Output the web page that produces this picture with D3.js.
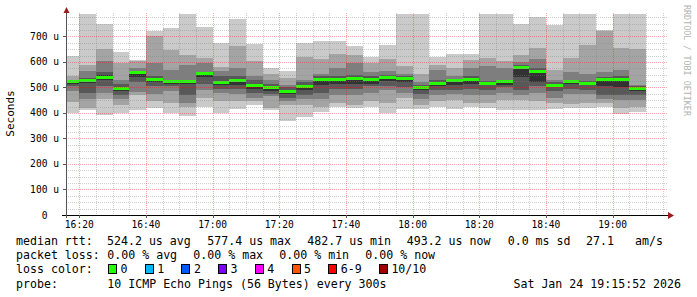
<!DOCTYPE html>
<html><head><meta charset="utf-8">
<script src="https://cdn.jsdelivr.net/npm/d3@7"></script>
<style>
html,body{margin:0;padding:0;background:#fff;}
svg{display:block;}
text{font-family:"DejaVu Sans Mono",monospace;white-space:pre;}
</style>
</head><body>
<svg id="c" width="697" height="297"></svg>
<script>
// ---------------- data ----------------
const slotStart = ["16:15","16:20","16:25","16:30","16:35","16:40","16:45","16:50","16:55",
  "17:00","17:05","17:10","17:15","17:20","17:25","17:30","17:35","17:40","17:45","17:50","17:55",
  "18:00","18:05","18:10","18:15","18:20","18:25","18:30","18:35","18:40","18:45","18:50","18:55",
  "19:00","19:05"];
// 10 sorted ping RTTs per 5-minute slot (microseconds)
const pings = [
  [401,444,487,506,514,522,526,530,545,623],
  [413,420,453,479,518,532,538,564,590,800],
  [394,455,480,505,528,548,560,603,649,749],
  [400,430,455,470,488,500,512,528,595,640],
  [410,470,482,520,540,560,565,577,603,609],
  [418,447,475,505,520,531,546,596,701,720],
  [400,440,485,505,515,526,531,570,645,733],
  [388,425,440,470,515,525,531,590,629,800],
  [425,460,490,512,540,557,561,596,616,737],
  [398,445,480,495,508,522,544,564,579,675],
  [415,445,475,494,510,530,544,577,664,769],
  [430,445,460,480,495,512,530,544,603,671],
  [410,420,465,475,488,500,515,530,551,577],
  [370,430,445,460,475,486,500,511,537,564],
  [385,432,455,470,490,506,520,531,620,675],
  [405,425,455,480,510,534,545,551,613,681],
  [425,440,470,495,515,534,545,577,633,681],
  [420,430,470,495,515,536,550,596,629,662],
  [425,445,480,505,515,534,545,561,596,619],
  [400,440,490,505,525,543,550,564,613,668],
  [415,460,480,500,520,537,545,551,583,800],
  [415,430,455,475,490,502,510,520,551,800],
  [425,445,470,490,505,517,530,570,590,620],
  [415,450,475,490,510,529,535,544,577,632],
  [425,440,470,495,515,534,545,577,609,633],
  [420,440,470,490,508,519,525,583,616,800],
  [413,450,480,500,510,526,531,577,603,800],
  [412,450,470,490,540,582,590,600,629,747],
  [412,445,480,505,520,566,575,613,653,775],
  [415,440,460,485,500,511,520,531,570,743],
  [420,435,475,495,513,524,530,561,616,800],
  [420,440,475,490,508,516,525,551,668,800],
  [425,440,455,470,505,533,540,560,720,727],
  [395,420,450,470,500,532,545,570,653,800],
  [405,425,450,470,485,496,505,509,649,800]
];
const medians = [523,527,541,495,557,530,524,523,553,518,527,509,498,483,504,532,532,534,532,541,
  535,500,515,527,532,517,524,577,561,509,522,514,531,530,494];
const lossPct = [0,0,0,0,0,0,0,0,0,0,0,0,0,0,0,0,0,0,0,0,0,0,0,0,0,0,0,0,0,0,0,0,0,0,0];

const yTickValues = [0,100,200,300,400,500,600,700];
const yTickLabels = ["0  ","100 u","200 u","300 u","400 u","500 u","600 u","700 u"];
const xTickLabels = ["16:20","16:40","17:00","17:20","17:40","18:00","18:20","18:40","19:00"];
const smokeGrays = ["#cacaca","#a4a4a4","#7e7e7e","#585858","#323232"];
const lossColors = ["#26ff00","#00b8ff","#0059ff","#7e00ff","#ff00ff","#ff5500","#ff0000","#a10000"];
const lossLabels = ["0","1","2","3","4","5","6-9","10/10"];
const rttStats = ["524.2 us avg","577.4 us max","482.7 us min","493.2 us now","0.0 ms sd","27.1","am/s"];
const lossStats = ["0.00 % avg","0.00 % max","0.00 % min","0.00 % now"];
const probeText = "10 ICMP Echo Pings (56 Bytes) every 300s";
const stampText = "Sat Jan 24 19:15:52 2026";
const watermark = "RRDTOOL / TOBI OETIKER";

// ---------------- chart ----------------
const svg = d3.select("#c");
svg.append("rect").attr("width",697).attr("height",297).attr("fill","#fff");
const parse = d3.timeParse("%Y-%m-%d %H:%M:%S");
const day = "2026-01-24 ";
const t0 = parse(day+"16:15:52"), t1 = parse(day+"19:15:52");
const L = 65.5, R = 665.5, TOP = 14, BOT = 215;
const x = d3.scaleTime().domain([t0,t1]).range([L,R]);
const y = d3.scaleLinear().domain([0,788]).range([BOT,TOP]);

svg.append("defs").append("clipPath").attr("id","pc")
  .append("rect").attr("x",66).attr("y",TOP).attr("width",R-66).attr("height",BOT-TOP);

const slots = slotStart.map((s,i)=>{
  const a = parse(day+s+":00");
  const b = new Date(a.getTime()+300000);
  return {a,b,p:pings[i],m:medians[i],l:lossPct[i]};
});

const plot = svg.append("g").attr("clip-path","url(#pc)");
smokeGrays.forEach((col,k)=>{
  plot.selectAll(null).data(slots).enter().append("rect")
    .attr("x",d=>x(d.a)).attr("width",d=>x(d.b)-x(d.a))
    .attr("y",d=>y(d.p[9-k])).attr("height",d=>y(d.p[k])-y(d.p[9-k]))
    .attr("fill",col).attr("shape-rendering","crispEdges");
});
plot.selectAll(null).data(slots).enter().append("rect")
  .attr("x",d=>x(d.a)).attr("width",d=>x(d.b)-x(d.a))
  .attr("y",d=>y(d.m)-1.5).attr("height",3)
  .attr("fill",d=>lossColors[d.l]).attr("shape-rendering","crispEdges");

// grid
const grid = svg.append("g").attr("shape-rendering","crispEdges");
const minorY = d3.range(25,788,25).filter(v=>v%100!==0);
grid.selectAll(null).data(minorY).enter().append("line")
  .attr("x1",66).attr("x2",668).attr("y1",d=>Math.round(y(d))+0.5).attr("y2",d=>Math.round(y(d))+0.5)
  .attr("stroke","rgba(128,128,128,0.38)").attr("stroke-dasharray","1,1");
const fiveMin = d3.timeMinute.every(5).range(t0,t1).filter(d=>d.getMinutes()%20!==0);
grid.selectAll(null).data(fiveMin).enter().append("line")
  .attr("x1",d=>Math.round(x(d))+0.5).attr("x2",d=>Math.round(x(d))+0.5).attr("y1",TOP-1).attr("y2",BOT)
  .attr("stroke","rgba(128,128,128,0.38)").attr("stroke-dasharray","1,1");
const majorY = yTickValues.filter(v=>v>0);
grid.selectAll(null).data(majorY).enter().append("line")
  .attr("x1",66).attr("x2",668).attr("y1",d=>Math.round(y(d))+0.5).attr("y2",d=>Math.round(y(d))+0.5)
  .attr("stroke","rgba(255,0,0,0.35)").attr("stroke-dasharray","1,1");
const majorX = xTickLabels.map(s=>parse(day+s+":00"));
grid.selectAll(null).data(majorX).enter().append("line")
  .attr("x1",d=>Math.round(x(d))+0.5).attr("x2",d=>Math.round(x(d))+0.5).attr("y1",TOP-1).attr("y2",BOT)
  .attr("stroke","rgba(255,0,0,0.35)").attr("stroke-dasharray","1,1");

// axes
const ax = svg.append("g").attr("shape-rendering","crispEdges");
ax.append("line").attr("x1",62).attr("x2",669).attr("y1",BOT+0.5).attr("y2",BOT+0.5).attr("stroke","#000");
ax.append("line").attr("x1",66.5).attr("x2",66.5).attr("y1",218).attr("y2",12).attr("stroke","#555");
ax.selectAll(null).data(majorY).enter().append("line")
  .attr("x1",63).attr("x2",66).attr("y1",d=>Math.round(y(d))+0.5).attr("y2",d=>Math.round(y(d))+0.5).attr("stroke","#555");
ax.selectAll(null).data(majorX).enter().append("line")
  .attr("x1",d=>Math.round(x(d))+0.5).attr("x2",d=>Math.round(x(d))+0.5).attr("y1",BOT).attr("y2",BOT+3).attr("stroke","#555");
svg.append("path").attr("d","M63.5,13 L66.5,7 L69.5,13 Z").attr("fill","#9b1c1c");
svg.append("path").attr("d","M668,212 L674,215.5 L668,219 Z").attr("fill","#9b1c1c");

// tick labels
svg.selectAll(null).data(yTickValues).enter().append("text")
  .attr("x",59).attr("y",d=>y(d)+3.5).attr("text-anchor","end")
  .attr("font-size","9.6px").attr("fill","#000").text((d,i)=>yTickLabels[i]);
svg.selectAll(null).data(majorX).enter().append("text")
  .attr("x",d=>x(d)).attr("y",227.5).attr("text-anchor","middle")
  .attr("font-size","9.6px").attr("fill","#000").text((d,i)=>xTickLabels[i]);

svg.append("text").attr("transform","translate(14,113.5) rotate(-90)")
  .attr("text-anchor","middle").attr("font-size","11px").attr("fill","#000").text("Seconds");
svg.append("text").attr("transform","translate(684,5) rotate(90)")
  .attr("text-anchor","start").attr("font-size","8.4px").attr("fill","#b4b4b4").text(watermark);

// legend
const fs = "11.6px";
const leg = svg.append("g").attr("font-size",fs).attr("fill","#000");
const row = [245, 259.2, 273.4, 287.6];
leg.append("text").attr("x",16).attr("y",row[0]).text("median rtt:");
const rttX = [107,207.3,307.3,406.7,507.7,586,635];
rttStats.forEach((s,i)=>leg.append("text").attr("x",rttX[i]).attr("y",row[0]).text(s));
leg.append("text").attr("x",16).attr("y",row[1]).text("packet loss:");
const lossX = [107.3,193.3,279.3,365.3];
lossStats.forEach((s,i)=>leg.append("text").attr("x",lossX[i]).attr("y",row[1]).text(s));
leg.append("text").attr("x",16).attr("y",row[2]).text("loss color:");
let bx = 108.5;
lossLabels.forEach((s,i)=>{
  leg.append("rect").attr("x",bx).attr("y",264.5).attr("width",8).attr("height",9)
    .attr("fill",lossColors[i]).attr("stroke","#000").attr("stroke-width",1).attr("shape-rendering","crispEdges");
  leg.append("text").attr("x",bx+12).attr("y",row[2]).text(s);
  bx += 15 + s.length*7 + 14.7;
});
leg.append("text").attr("x",16).attr("y",row[3]).text("probe:");
leg.append("text").attr("x",107.3).attr("y",row[3]).text(probeText);
leg.append("text").attr("x",681).attr("y",row[3]).attr("text-anchor","end").text(stampText);
</script>
</body></html>
